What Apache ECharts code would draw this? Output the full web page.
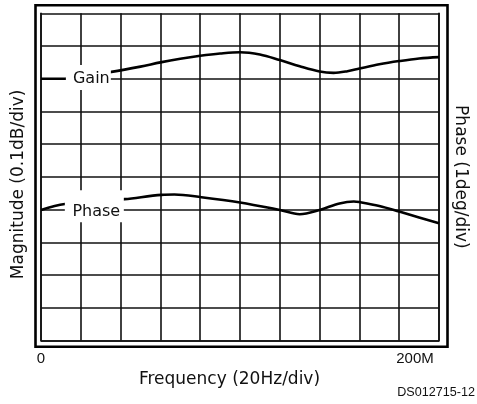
<!DOCTYPE html>
<html><head><meta charset="utf-8">
<script src="https://cdn.jsdelivr.net/npm/echarts@6/dist/echarts.min.js"></script>
<style>html,body{margin:0;padding:0;background:#fff}#c{width:477px;height:404px}</style>
</head><body><div id="c"></div>
<script>
// Frequency positions in divisions (0..10), values in divisions (0..10)
const gainFreq  = [0, 0.6, 1.77, 2.5, 3.0, 3.5, 4.0, 4.5, 5.0, 5.5, 6.0, 6.5, 7.0, 7.35, 7.7, 8.0, 8.5, 9.0, 9.5, 10];
const gainVal   = [8.0, 8.0, 8.21, 8.37, 8.50, 8.61, 8.70, 8.77, 8.81, 8.74, 8.57, 8.38, 8.22, 8.18, 8.23, 8.31, 8.44, 8.54, 8.62, 8.66];
const phaseFreq = [0, 0.6, 2.1, 3.03, 3.35, 4.03, 5.0, 6.0, 6.5, 7.0, 7.5, 7.86, 8.0, 8.5, 9.0, 9.5, 10];
const phaseVal  = [3.99, 4.17, 4.32, 4.45, 4.46, 4.38, 4.22, 3.99, 3.86, 3.99, 4.19, 4.25, 4.23, 4.11, 3.94, 3.76, 3.58];
const xTickValues = [0, 10];
const xTickLabels = ['0', '200M'];
const xTitle = 'Frequency (20Hz/div)';
const yLeftTitle = 'Magnitude (0.1dB/div)';
const yRightTitle = 'Phase (1deg/div)';
const curveNames = ['Gain', 'Phase'];
const figureId = 'DS012715-12';

const chart = echarts.init(document.getElementById('c'), null, {renderer: 'canvas'});
const ink = '#000';
const gridLine = {show: true, lineStyle: {color: '#111', width: 1.6}};
const wide = 'DejaVu Sans';
const narrow = '"Liberation Sans", Arial, sans-serif';

function pairs(xs, ys) { return xs.map((x, i) => [x, ys[i]]); }

chart.setOption({
  animation: false,
  backgroundColor: '#fff',
  grid: {left: 41, right: 36.5, top: 13.3, bottom: 63.5},
  xAxis: {
    type: 'value', min: 0, max: 10, interval: 1,
    axisLine: {show: true, lineStyle: {color: '#111', width: 1.6}},
    axisTick: {show: false},
    splitLine: gridLine,
    axisLabel: {
      margin: 11,
      fontFamily: narrow, fontSize: 15, color: '#111',
      formatter: v => {
        const i = xTickValues.indexOf(v);
        if (i < 0) return '';
        return i === xTickValues.length - 1 ? '{r|' + xTickLabels[i] + '}' : xTickLabels[i];
      },
      rich: {r: {fontFamily: narrow, fontSize: 15, color: '#111', padding: [0, 0, 0, -48]}}
    },
    name: xTitle, nameLocation: 'middle', nameGap: 23,
    nameTextStyle: {fontFamily: wide, fontSize: 17, color: '#111', padding: [0, 21, 0, 0]}
  },
  yAxis: [{
    type: 'value', min: 0, max: 10, interval: 1,
    axisLine: {show: true, lineStyle: {color: '#111', width: 1.6}},
    axisTick: {show: false}, axisLabel: {show: false},
    splitLine: gridLine,
    name: yLeftTitle, nameLocation: 'middle', nameGap: 14,
    nameTextStyle: {fontFamily: wide, fontSize: 17, color: '#111', padding: [0, 15, 0, 0]}
  }, {
    type: 'value', min: 0, max: 10, interval: 1, position: 'right',
    axisLine: {show: true, lineStyle: {color: '#111', width: 1.6}},
    axisTick: {show: false}, axisLabel: {show: false},
    splitLine: {show: false},
    name: yRightTitle, nameLocation: 'middle', nameGap: 13, nameRotate: -90,
    nameTextStyle: {fontFamily: wide, fontSize: 17, color: '#111'}
  }],
  series: [{
    name: curveNames[0], type: 'line', yAxisIndex: 0,
    data: pairs(gainFreq, gainVal), smooth: 0.35, symbol: 'none',
    lineStyle: {color: ink, width: 2.6},
    markPoint: {
      symbol: 'rect', symbolSize: [45, 25], silent: true,
      itemStyle: {color: '#fff'},
      label: {show: true, position: 'inside', formatter: curveNames[0], color: '#111',
              fontFamily: wide, fontSize: 16, offset: [3, 1]},
      data: [{coord: [1.19, 8.04]}]
    }
  }, {
    name: curveNames[1], type: 'line', yAxisIndex: 1,
    data: pairs(phaseFreq, phaseVal), smooth: 0.35, symbol: 'none',
    lineStyle: {color: ink, width: 2.6},
    markPoint: {
      symbol: 'rect', symbolSize: [59, 32], silent: true,
      itemStyle: {color: '#fff'},
      label: {show: true, position: 'inside', formatter: curveNames[1], color: '#111',
              fontFamily: wide, fontSize: 16, offset: [2, 5]},
      data: [{coord: [1.34, 4.1]}]
    }
  }],
  graphic: [{
    type: 'rect', silent: true,
    shape: {x: 35.5, y: 5.3, width: 412, height: 341.5},
    style: {fill: 'none', stroke: '#000', lineWidth: 2.6}
  }, {
    type: 'text', silent: true, x: 475, y: 393,
    style: {text: figureId, align: 'right', verticalAlign: 'middle',
            font: '12.6px ' + narrow, fill: '#111'}
  }]
});
</script></body></html>
